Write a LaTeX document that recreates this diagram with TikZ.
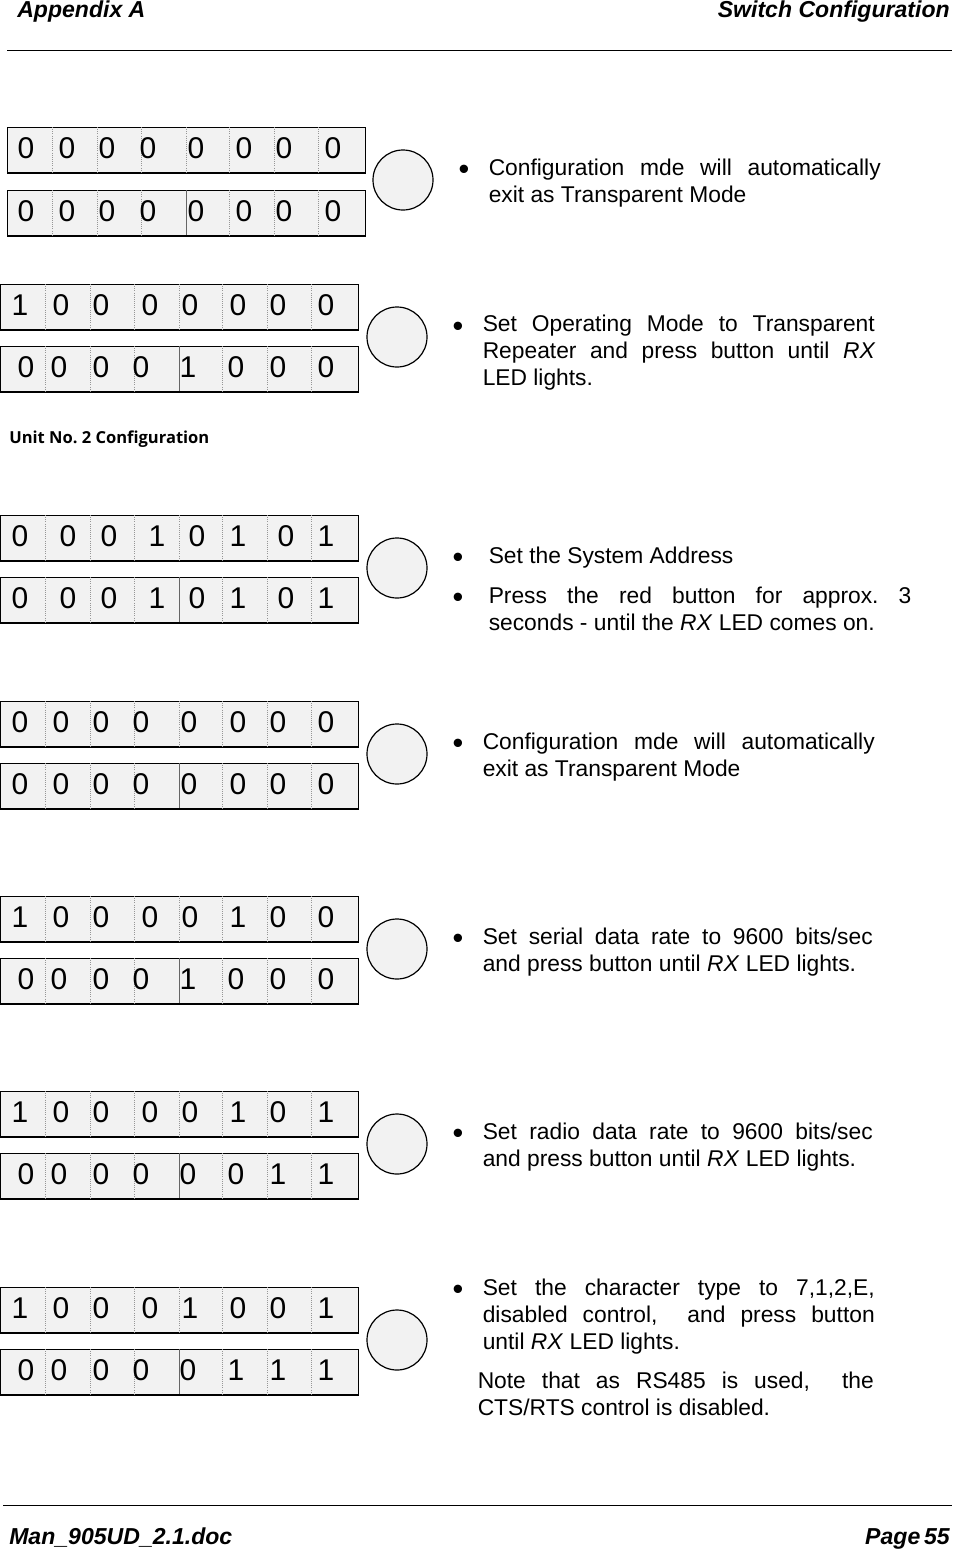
\documentclass[tikz,border=0pt]{standalone}
\usepackage{fontspec}
\setmainfont{Liberation Sans}
\newfontfamily\unitfont[Ligatures=NoCommon]{Open Sans}
\hyphenpenalty=10000
\frenchspacing
\definecolor{swfill}{RGB}{242,242,242}
\definecolor{swdots}{RGB}{150,150,150}
\tikzset{
  swbox/.style={rectangle,draw=black,fill=swfill,line width=1.1pt,minimum width=268.3pt,minimum height=34.2pt,inner sep=0pt,anchor=north west},
  swdigit/.style={inner sep=0pt,font=\fontsize{22.5}{24}\selectfont},
  swsep/.style={densely dotted,color=swdots,line width=0.6pt},
  swmid/.style={color=black!60,line width=0.6pt},
  button/.style={circle,draw=black,fill=swfill,line width=0.9pt,minimum size=45pt,inner sep=0pt},
  bullet/.style={inner sep=0pt,anchor=base,yshift=-0.75pt,font=\fontsize{23}{24}\selectfont},
  para/.style={inner sep=0pt,anchor=north west,align=justify,font=\fontsize{17.1}{20.25}\selectfont},
  header/.style={inner sep=0pt,anchor=base west,font=\fontsize{17.3}{20}\selectfont\bfseries\itshape}
}
% name, left, top, style of the middle separator, x/digit list
\newcommand{\swrow}[5]{
  \node[swbox] (#1) at (#2,{#3-0.5}) {};
  \foreach \sx/\sstyle in {45/swsep,90/swsep,134/swsep,179/#4,222/swsep,267/swsep,311/swsep}
    \draw[\sstyle] ({#2+\sx},#3) -- ({#2+\sx},{#3+45});
  \foreach \dx/\dv [count=\i] in {#5}
    \node[swdigit] (#1-\i) at (\dx,{#3+21}) {\dv};
}
\begin{document}
\begin{tikzpicture}[x=0.75pt,y=-0.75pt]
  \useasboundingbox (0,0) rectangle (953,1549);

  % page header
  \node[header] (apx) at (17,17) {Appendix A};
  \node[header,anchor=base east] (cfg) at (950,17) {Switch Configuration};
  \coordinate (hl) at (7,50);
  \coordinate (hr) at (952,50);
  \draw[line width=0.6pt] (hl) -- (hr);

  % end of unit 1
  \swrow{a1}{7}{127}{swsep}{26/0,67/0,107/0,148/0,196/0,244/0,284/0,333/0}
  \swrow{a2}{7}{190}{swmid}{26/0,67/0,107/0,148/0,196/0,244/0,284/0,333/0}
  \node[button] (btna) at (403,180) {};
  \node[bullet] (bula) at (464,178) {•};
  \node[para,text width=294pt] (txta) at (488.5,158.5) {Configuration mde will automatically exit as Transparent Mode};

  \swrow{b1}{0}{284}{swsep}{20/1,61/0,101/0,150/0,190/0,238/0,278/0,326/0}
  \swrow{b2}{0}{346}{swmid}{26/0,59/0,101/0,141/0,188/1,236/0,278/0,326/0}
  \node[button] (btnb) at (397,337) {};
  \node[bullet] (bulb) at (458,335) {•};
  \node[para,text width=294pt] (txtb) at (482.5,314.5) {Set Operating Mode to Transparent Repeater and press button until \textit{RX} LED lights.};

  \node[inner sep=0pt,anchor=west,font=\unitfont\fontsize{12.4}{14}\selectfont\bfseries] (unit) at (9,439.5) {Unit No. 2 Configuration};

  % unit 2
  \swrow{c1}{0}{515}{swsep}{20/0,68/0,109/0,157/1,197/0,238/1,286/0,326/1}
  \swrow{c2}{0}{577}{swmid}{20/0,68/0,109/0,157/1,197/0,238/1,286/0,326/1}
  \node[button] (btnc) at (397,568) {};
  \node[bullet] (bulc) at (458,566) {•};
  \node[para,text width=294pt] (txtc) at (488.5,546.5) {Set the System Address};
  \node[bullet] (buld) at (458,606) {•};
  \node[para,text width=317pt] (txtd) at (488.5,586.5) {Press the red button for approx. 3\linebreak seconds - until the \textit{RX} LED comes on.};

  \swrow{d1}{0}{701}{swsep}{20/0,61/0,101/0,141/0,189/0,238/0,278/0,326/0}
  \swrow{d2}{0}{763}{swmid}{20/0,61/0,101/0,141/0,189/0,238/0,278/0,326/0}
  \node[button] (btnd) at (397,754) {};
  \node[bullet] (bule) at (458,752) {•};
  \node[para,text width=294pt] (txte) at (482.5,732.5) {Configuration mde will automatically exit as Transparent Mode};

  \swrow{e1}{0}{896}{swsep}{20/1,61/0,101/0,150/0,190/0,238/1,278/0,326/0}
  \swrow{e2}{0}{958}{swmid}{26/0,59/0,101/0,141/0,188/1,236/0,278/0,326/0}
  \node[button] (btne) at (397,949) {};
  \node[bullet] (bulf) at (458,947) {•};
  \node[para,text width=292.5pt] (txtf) at (482.5,927.5) {Set serial data rate to 9600 bits/sec\linebreak and press button until \textit{RX} LED lights.};

  \swrow{f1}{0}{1091}{swsep}{20/1,61/0,101/0,150/0,190/0,238/1,278/0,326/1}
  \swrow{f2}{0}{1153}{swmid}{26/0,59/0,101/0,141/0,188/0,236/0,278/1,326/1}
  \node[button] (btnf) at (397,1144) {};
  \node[bullet] (bulg) at (458,1142) {•};
  \node[para,text width=292.5pt] (txtg) at (482.5,1122.5) {Set radio data rate to 9600 bits/sec\linebreak and press button until \textit{RX} LED lights.};

  \swrow{g1}{0}{1287}{swsep}{20/1,61/0,101/0,150/0,190/1,238/0,278/0,326/1}
  \swrow{g2}{0}{1349}{swmid}{26/0,59/0,101/0,141/0,188/0,236/1,278/1,326/1}
  \node[button] (btng) at (397,1340) {};
  \node[bullet] (bulh) at (458,1298) {•};
  \node[para,text width=294pt] (txth) at (482.5,1278.5) {Set the character type to 7,1,2,E, disabled control,\ \ and press button\linebreak until \textit{RX} LED lights.};
  \node[para,text width=297pt] (txti) at (477.5,1371.5) {Note that as RS485 is used,\ \ the CTS/RTS control is disabled.};

  % page footer
  \coordinate (fl) at (3,1505);
  \coordinate (fr) at (952,1505);
  \draw[line width=0.6pt] (fl) -- (fr);
  \node[header] (man) at (9,1544) {Man\_905UD\_2.1.doc};
  \node[header,anchor=base east] (pg) at (950,1544) {Page\kern-2pt\ 55};
\end{tikzpicture}
\end{document}
